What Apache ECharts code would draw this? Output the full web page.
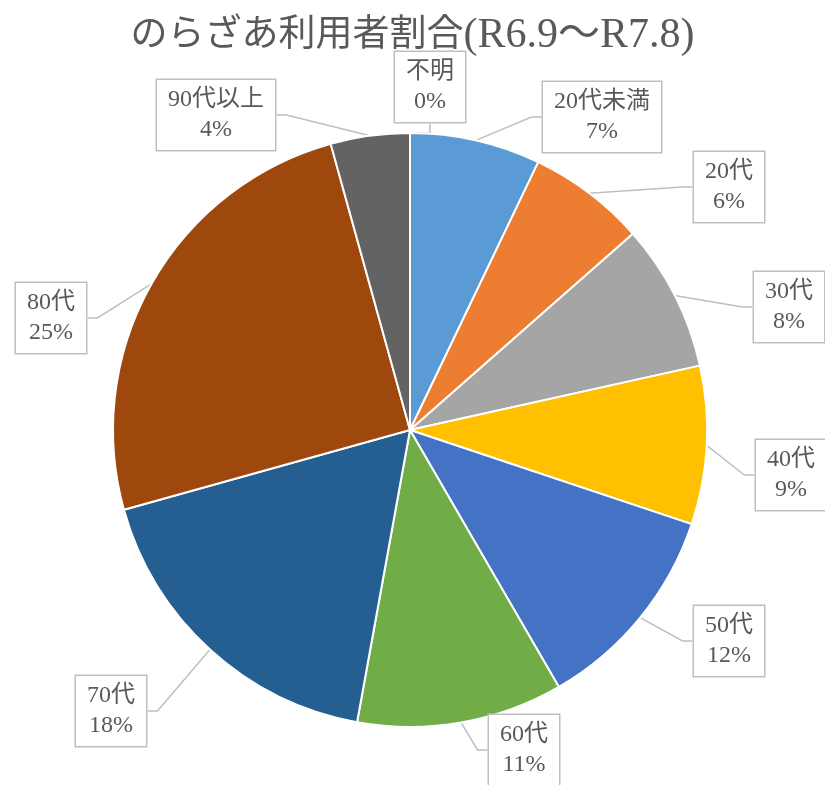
<!DOCTYPE html>
<html>
<head>
<meta charset="utf-8">
<script src="https://cdn.jsdelivr.net/npm/echarts@6/dist/echarts.min.js"></script>
<style>
html,body{margin:0;padding:0;background:#fff;}
#main{width:825px;height:785px;}
</style>
</head>
<body>
<div id="main"></div>
<script>
// 年代別の利用者割合 (%)
var ageGroups = ['20代未満', '20代', '30代', '40代', '50代', '60代', '70代', '80代', '90代以上', '不明'];
var shares = [7.1, 6.4, 8.0, 8.6, 11.5, 11.2, 17.8, 25.0, 4.3, 0];
var sliceColors = ['#5B9BD5', '#ED7D31', '#A5A5A5', '#FFC000', '#4472C4', '#70AD47', '#255E91', '#9E480E', '#636363', '#997300'];
// ラベル枠の中心位置 (px)
var labelPos = [[602, 117], [729, 187], [789, 307], [791, 475], [729, 641], [524, 750], [111, 711], [51, 318], [216, 115], [430, 87]];

var pieData = [];
for (var i = 0; i < ageGroups.length; i++) {
    pieData.push({name: ageGroups[i], value: shares[i], itemStyle: {color: sliceColors[i]}});
}

var fontList = '"Liberation Serif", "Noto Sans CJK JP"';
var myChart = echarts.init(document.getElementById('main'));
var option = {
    backgroundColor: '#fff',
    title: {
        text: '{a|のらざあ利用者割合}{b|(R6.9～R7.8)}',
        left: 'center',
        top: 10,
        textStyle: {
            fontWeight: 'normal',
            rich: {
                a: {color: '#595959', fontSize: 37, fontWeight: 'normal', fontFamily: fontList},
                b: {color: '#595959', fontSize: 42, fontWeight: 'normal', fontFamily: fontList}
            }
        }
    },
    series: [{
        type: 'pie',
        center: [410, 430],
        radius: 297,
        startAngle: 90,
        clockwise: true,
        avoidLabelOverlap: false,
        data: pieData,
        itemStyle: {borderColor: '#fff', borderWidth: 2},
        label: {
            show: true,
            formatter: function (p) {
                return p.name + '\n' + Math.round(p.percent) + '%';
            },
            color: '#595959',
            fontSize: 24,
            lineHeight: 30,
            fontFamily: fontList,
            align: 'center',
            backgroundColor: '#fff',
            borderColor: '#BFBFBF',
            borderWidth: 1.5,
            padding: [5, 11]
        },
        labelLine: {
            show: true,
            length: 20,
            length2: 10,
            lineStyle: {color: '#BFBFBF', width: 1.5}
        },
        labelLayout: function (params) {
            var p = labelPos[params.dataIndex];
            return {x: p[0], y: p[1], align: 'center', verticalAlign: 'middle'};
        }
    }]
};
myChart.setOption(option);
</script>
</body>
</html>
